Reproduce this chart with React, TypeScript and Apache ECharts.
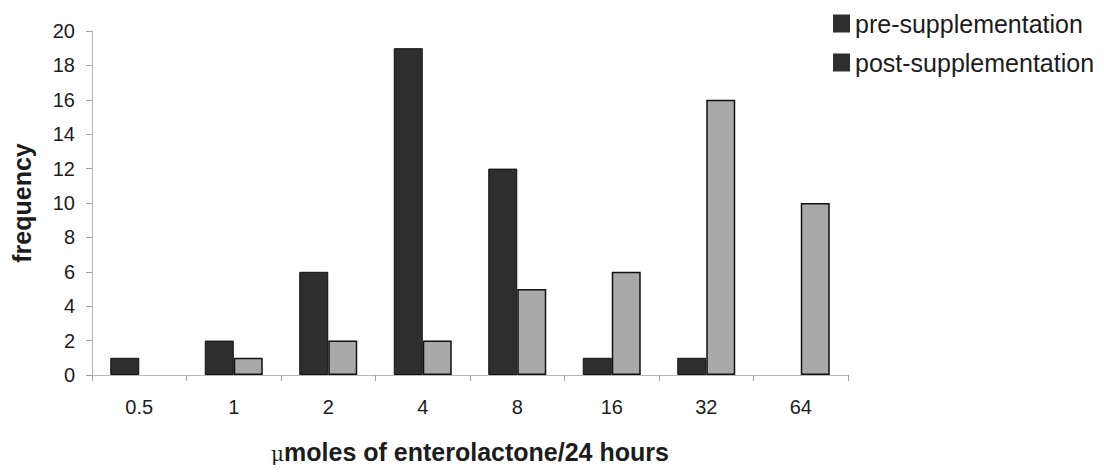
import React, { useEffect, useRef } from "react";
import * as echarts from "echarts";

// Frequency distribution of urinary enterolactone excretion
const categories = ["0.5", "1", "2", "4", "8", "16", "32", "64"];
const preSupplementation = [1, 2, 6, 19, 12, 1, 1, null];
const postSupplementation = [null, 1, 2, 2, 5, 6, 16, 10];
const yTicks = { min: 0, max: 20, interval: 2 };

const FONT = "'Liberation Sans', Arial, Helvetica, sans-serif";
const INK = "#1c1c1c";
const DARK = "#2e2e2e";
const LIGHT = "#a9a9a9";

export default function App() {
  const ref = useRef<HTMLDivElement>(null);

  useEffect(() => {
    if (!ref.current) return;
    const chart = echarts.init(ref.current, undefined, { renderer: "svg" });
    chart.setOption({
      animation: false,
      backgroundColor: "#ffffff",
      textStyle: { fontFamily: FONT, color: INK },
      legend: {
        orient: "vertical",
        left: 828,
        top: 6,
        itemWidth: 17,
        itemHeight: 18,
        itemGap: 14,
        icon: "rect",
        textStyle: { fontSize: 25, color: INK, fontFamily: FONT, lineHeight: 25 },
        data: [
          { name: "pre-supplementation", itemStyle: { color: DARK, borderWidth: 0 } },
          { name: "post-supplementation", itemStyle: { color: DARK, borderWidth: 0 } },
        ],
      },
      grid: { left: 92, right: 256, top: 31, bottom: 100 },
      xAxis: {
        type: "category",
        data: categories,
        boundaryGap: true,
        name: "{mu|μ}{b|moles of enterolactone/24 hours}",
        nameLocation: "middle",
        nameGap: 64,
        nameTextStyle: {
          rich: {
            mu: { fontSize: 20, fontWeight: "normal", fontFamily: "'DejaVu Serif', serif", color: INK, verticalAlign: "bottom" },
            b: { fontSize: 25, fontWeight: "bold", fontFamily: FONT, color: INK },
          },
        },
        axisLine: { lineStyle: { color: "#b8b8b8", width: 1 } },
        axisTick: { show: true, length: 6, lineStyle: { color: "#a0a0a0" } },
        axisLabel: { fontSize: 20, color: INK, margin: 22, fontFamily: FONT },
        splitLine: { show: false },
      },
      yAxis: {
        type: "value",
        min: yTicks.min,
        max: yTicks.max,
        interval: yTicks.interval,
        name: "frequency",
        nameLocation: "middle",
        nameRotate: 90,
        nameGap: 58,
        nameTextStyle: { fontSize: 25, fontWeight: "bold", color: INK, fontFamily: FONT },
        axisLine: { show: true, lineStyle: { color: "#b8b8b8", width: 1 } },
        axisTick: { show: true, length: 6, lineStyle: { color: "#a0a0a0" } },
        axisLabel: { fontSize: 20, color: INK, margin: 17, fontFamily: FONT },
        splitLine: { show: false },
      },
      series: [
        {
          name: "pre-supplementation",
          type: "bar",
          data: preSupplementation,
          barWidth: 29,
          barGap: "0%",
          itemStyle: { color: DARK, borderColor: "#111111", borderWidth: 1 },
        },
        {
          name: "post-supplementation",
          type: "bar",
          data: postSupplementation,
          barWidth: 29,
          barGap: "0%",
          itemStyle: { color: LIGHT, borderColor: "#111111", borderWidth: 1.5 },
        },
      ],
    });
    return () => chart.dispose();
  }, []);

  return (
    <div
      ref={ref}
      style={{ position: "fixed", left: 0, top: 0, width: 1104, height: 475 }}
    />
  );
}
